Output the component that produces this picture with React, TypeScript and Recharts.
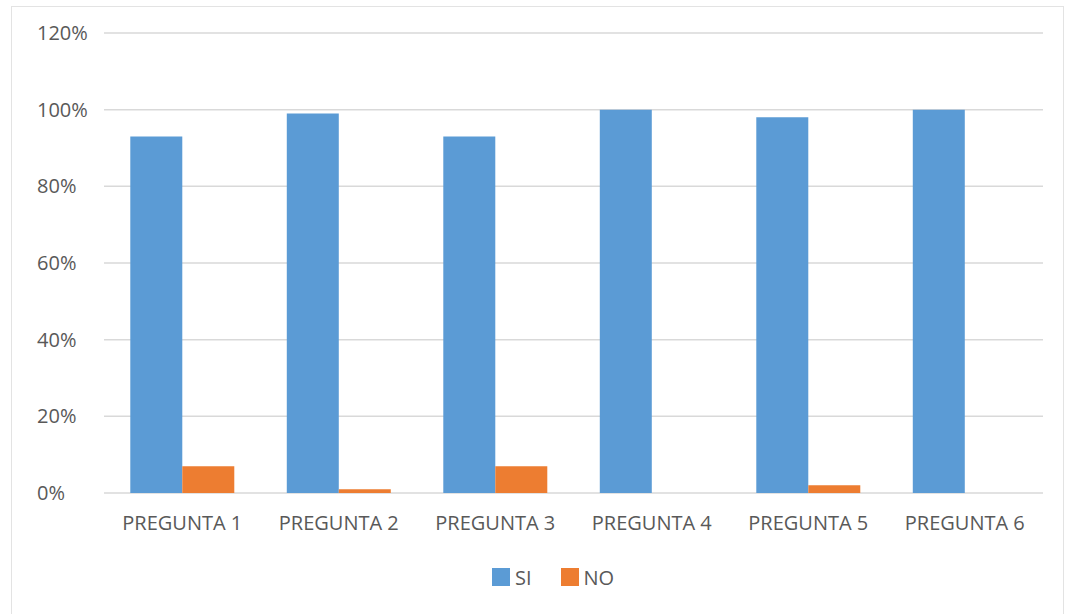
import { BarChart, Bar, XAxis, YAxis, CartesianGrid, Legend } from "recharts"

const categories = ["PREGUNTA 1", "PREGUNTA 2", "PREGUNTA 3", "PREGUNTA 4", "PREGUNTA 5", "PREGUNTA 6"]
const siValues = [0.93, 0.99, 0.93, 1.0, 0.98, 1.0]
const noValues = [0.07, 0.01, 0.07, 0, 0.02, 0]
const yTicks = [0, 0.2, 0.4, 0.6, 0.8, 1.0, 1.2]
const seriesOrder = ["SI", "NO"]

const data = categories.map((name, i) => ({ name, SI: siValues[i], NO: noValues[i] }))

const FONT = "'Open Sans', sans-serif"
const TEXT = "#595959"

function YTick(props: any) {
    const { y, payload } = props
    return (
        <text x={37} y={y} dy="0.35em" textAnchor="start" fill={TEXT} fontSize={20} fontFamily={FONT}>
            {Math.round(payload.value * 100)}%
        </text>
    )
}

function LegendContent(props: any) {
    const items = [...(props.payload || [])].sort(
        (a: any, b: any) => seriesOrder.indexOf(a.value) - seriesOrder.indexOf(b.value)
    )
    return (
        <div style={{ display: "flex", alignItems: "center", height: 24, paddingLeft: 492, gap: 29 }}>
            {items.map((entry: any) => (
                <div key={entry.value} style={{ display: "flex", alignItems: "center" }}>
                    <span style={{ width: 18, height: 18, background: entry.color, display: "inline-block", marginRight: 5 }} />
                    <span style={{ color: TEXT, fontSize: 20, fontFamily: FONT }}>{entry.value}</span>
                </div>
            ))}
        </div>
    )
}

export default function App() {
    return (
        <div style={{ position: "fixed", left: 0, top: 0, width: 1071, height: 614, background: "#fff", overflow: "hidden" }}>
            <div style={{ position: "absolute", left: 11, top: 6, width: 1051, height: 640, border: "1px solid #e3e3e3" }} />
            <div style={{ position: "absolute", left: 0, top: 0 }}>
                <BarChart
                    width={1071}
                    height={614}
                    data={data}
                    margin={{ top: 33, right: 28, left: 0, bottom: 25 }}
                    barGap={0}
                    barCategoryGap="16.8%"
                >
                    <CartesianGrid vertical={false} stroke="#d9d9d9" strokeWidth={1.5} />
                    <XAxis
                        dataKey="name"
                        axisLine={false}
                        tickLine={false}
                        height={72}
                        tickMargin={17}
                        tick={{ fill: TEXT, fontSize: 20, fontFamily: FONT }}
                        interval={0}
                    />
                    <YAxis
                        width={104}
                        domain={[0, 1.2]}
                        ticks={yTicks}
                        axisLine={false}
                        tickLine={false}
                        tick={<YTick />}
                        interval={0}
                    />
                    <Legend verticalAlign="bottom" content={<LegendContent />} />
                    <Bar dataKey="SI" fill="#5b9bd5" isAnimationActive={false} />
                    <Bar dataKey="NO" fill="#ed7d31" isAnimationActive={false} />
                </BarChart>
            </div>
        </div>
    )
}
